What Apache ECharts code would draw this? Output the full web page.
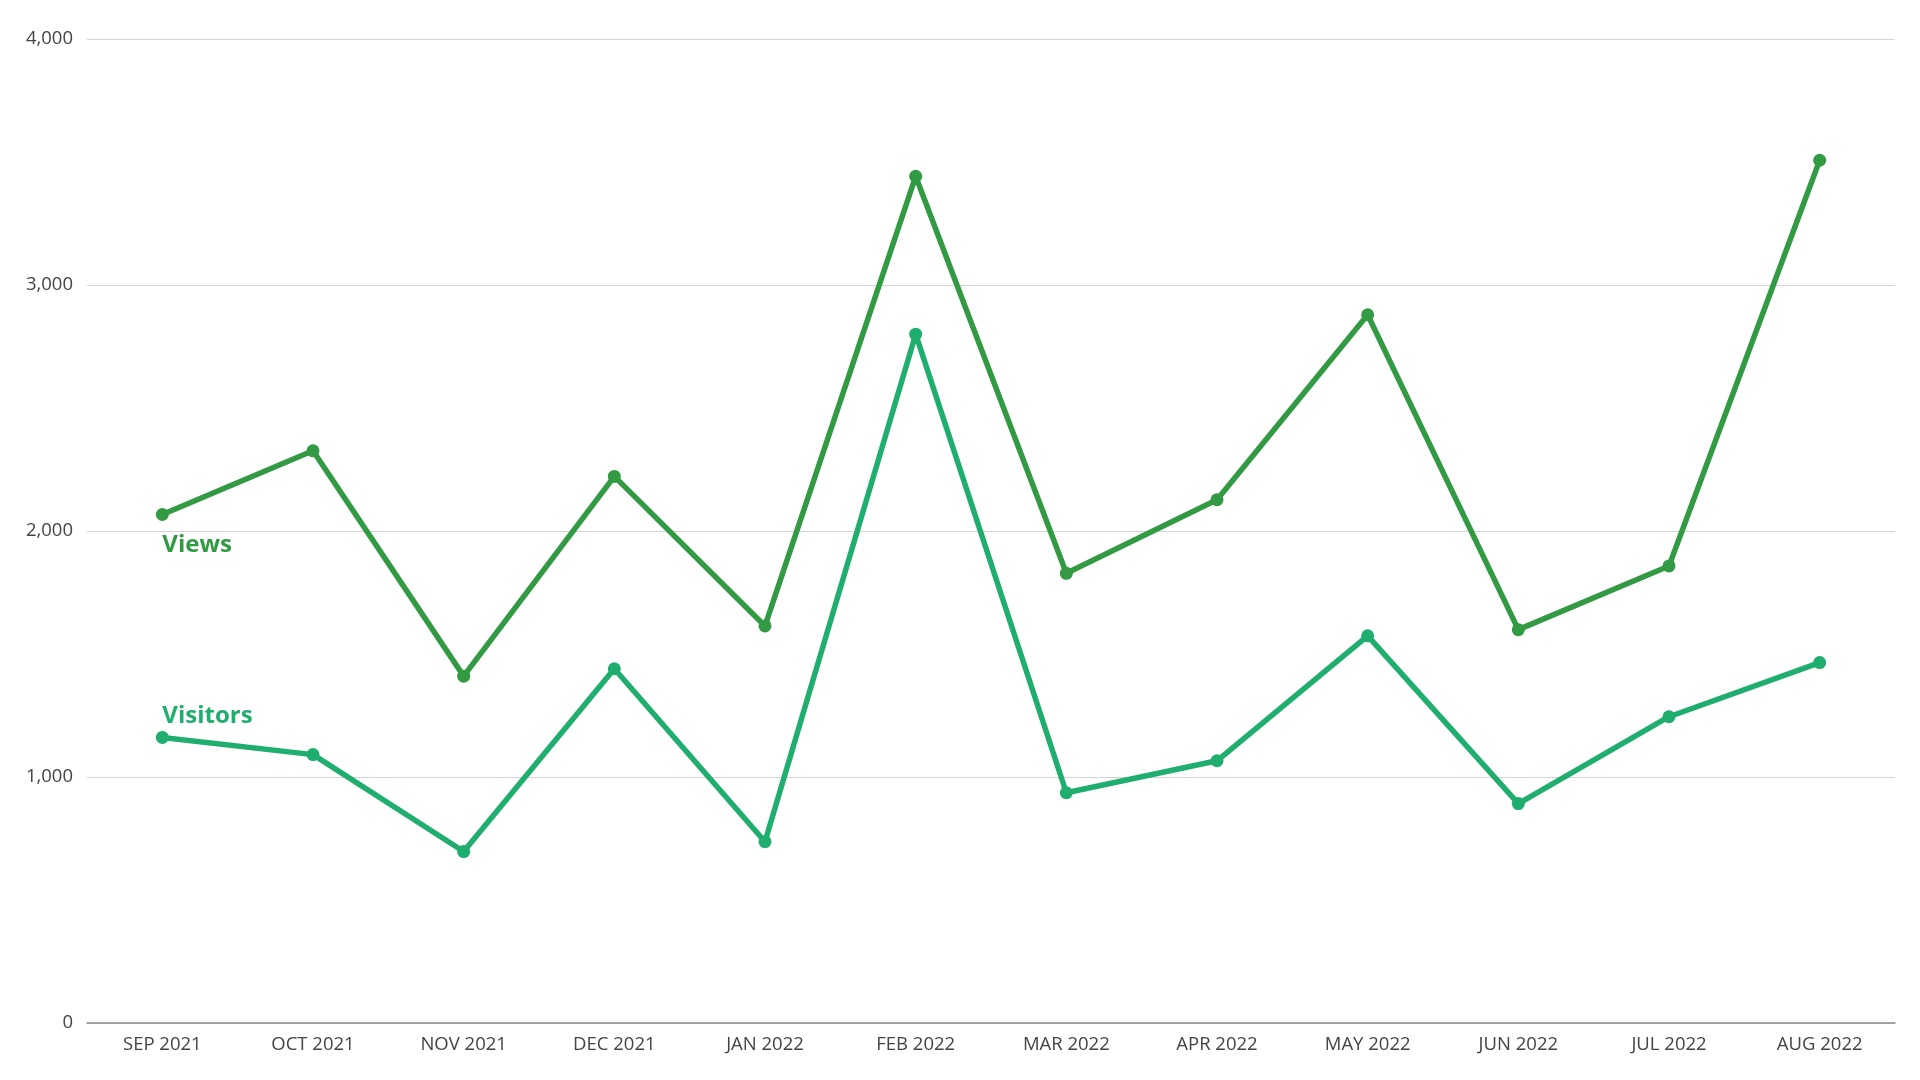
<!DOCTYPE html>
<html>
<head>
<meta charset="utf-8">
<script src="https://cdn.jsdelivr.net/npm/echarts@6/dist/echarts.min.js"></script>
<style>html,body{margin:0;padding:0;background:#fff}#c{width:1920px;height:1080px}</style>
</head>
<body>
<div id="c"></div>
<script>
const categories = ['SEP 2021','OCT 2021','NOV 2021','DEC 2021','JAN 2022','FEB 2022','MAR 2022','APR 2022','MAY 2022','JUN 2022','JUL 2022','AUG 2022'];
const views = [2067, 2326, 1410, 2222, 1614, 3442, 1828, 2127, 2879, 1599, 1858, 3507];
const visitors = [1161, 1091, 697, 1440, 737, 2800, 936, 1066, 1574, 892, 1245, 1465];
const yTicks = [0, 1000, 2000, 3000, 4000];

const viewsColor = '#329a42';
const visitorsColor = '#1fae6e';
const font = '"Open Sans", sans-serif';

function withFirstLabel(arr, name, color, pos, off) {
  return arr.map((v, i) => i === 0 ? {
    value: v,
    label: {
      show: true, formatter: name, position: pos, align: 'left',
      offset: off, color: color, fontFamily: font, fontWeight: 'bold', fontSize: 24
    }
  } : v);
}

const chart = echarts.init(document.getElementById('c'));
chart.setOption({
  animation: false,
  grid: { left: 87, right: 25, top: 39, bottom: 57, containLabel: false },
  xAxis: {
    type: 'category', data: categories, boundaryGap: true,
    axisLine: { lineStyle: { color: '#8c8c8c', width: 1.5 } },
    axisTick: { show: false },
    axisLabel: { color: '#444', fontFamily: font, fontSize: 18.5, margin: 12 }
  },
  yAxis: {
    type: 'value', min: yTicks[0], max: yTicks[yTicks.length - 1], interval: 1000,
    axisLine: { show: false }, axisTick: { show: false },
    splitLine: { lineStyle: { color: '#d4d4d4', width: 1.2 } },
    axisLabel: {
      color: '#444', fontFamily: font, fontSize: 18.5, margin: 14,
      formatter: v => v.toLocaleString('en-US')
    }
  },
  series: [
    {
      name: 'Views', type: 'line', data: withFirstLabel(views, 'Views', viewsColor, 'bottom', [0, 7]),
      symbol: 'circle', symbolSize: 13,
      lineStyle: { color: viewsColor, width: 5.5 },
      itemStyle: { color: viewsColor }
    },
    {
      name: 'Visitors', type: 'line', data: withFirstLabel(visitors, 'Visitors', visitorsColor, 'top', [0, 2]),
      symbol: 'circle', symbolSize: 13,
      lineStyle: { color: visitorsColor, width: 5.5 },
      itemStyle: { color: visitorsColor }
    }
  ]
});
</script>
</body>
</html>
